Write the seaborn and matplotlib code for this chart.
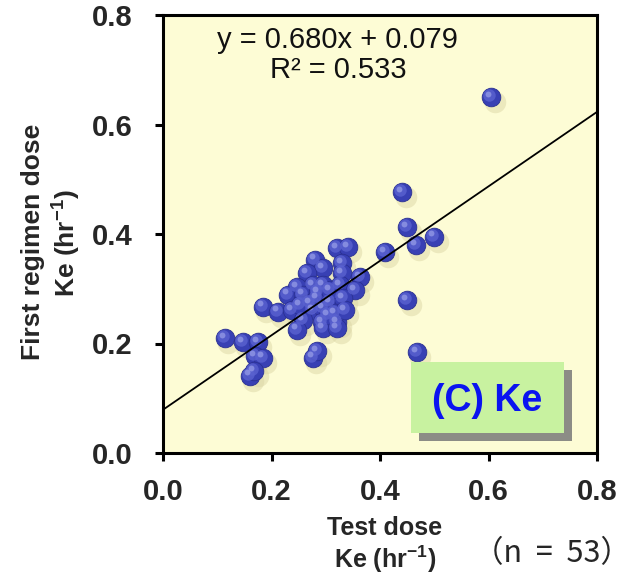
import numpy as np
import pandas as pd
import seaborn as sns
import matplotlib.pyplot as plt
from matplotlib.transforms import offset_copy
from matplotlib.patches import Rectangle

# ---- data ----
test_dose_ke = [
    0.114, 0.147, 0.175, 0.170, 0.184, 0.160, 0.168, 0.184, 0.212, 0.276,
    0.284, 0.441, 0.450, 0.466, 0.500, 0.409, 0.450, 0.468, 0.605,
    0.321, 0.341, 0.280, 0.295, 0.330, 0.330, 0.265, 0.363, 0.276, 0.295,
    0.326, 0.354, 0.247, 0.230, 0.258, 0.284, 0.308, 0.332, 0.238, 0.276,
    0.295, 0.317, 0.258, 0.293, 0.321, 0.247, 0.295, 0.321,
    0.286, 0.308, 0.271, 0.304, 0.335, 0.253,
]
first_regimen_ke = [
    0.210, 0.203, 0.203, 0.177, 0.174, 0.141, 0.150, 0.267, 0.258, 0.174,
    0.186, 0.477, 0.413, 0.380, 0.395, 0.367, 0.279, 0.184, 0.650,
    0.374, 0.376, 0.353, 0.338, 0.347, 0.329, 0.329, 0.321, 0.307, 0.307,
    0.307, 0.298, 0.303, 0.289, 0.289, 0.283, 0.276, 0.283, 0.261, 0.261,
    0.265, 0.256, 0.243, 0.239, 0.239, 0.225, 0.228, 0.228,
    0.294, 0.298, 0.274, 0.252, 0.261, 0.270,
]
slope = 0.680
intercept = 0.079
r_squared = 0.533
n_patients = 53
tick_values = [0.0, 0.2, 0.4, 0.6, 0.8]
tick_labels = ["0.0", "0.2", "0.4", "0.6", "0.8"]
panel_label = "(C) Ke"

df = pd.DataFrame({"test": test_dose_ke, "first": first_regimen_ke})

sns.set_theme(style="ticks")
plt.rcParams["font.family"] = ["Liberation Sans", "DejaVu Sans"]
plt.rcParams["mathtext.fontset"] = "custom"
plt.rcParams["mathtext.rm"] = "Liberation Sans"
plt.rcParams["mathtext.bf"] = "Liberation Sans:bold"

W, H = 632, 576
fig = plt.figure(figsize=(W / 100, H / 100), dpi=100)
fig.patch.set_facecolor("white")
ax = fig.add_axes([163 / W, 1 - 453 / H, 434 / W, 438 / H])
ax.set_facecolor("#FDFCD5")

# sphere-like markers: soft shadow, body, highlight
shadow_tr = offset_copy(ax.transData, fig=fig, x=2.5, y=-3.5, units="points")
sns.scatterplot(data=df, x="test", y="first", s=240, color="#DCD7A6", alpha=0.5,
                linewidth=0, transform=shadow_tr, ax=ax, legend=False, zorder=2)
sns.scatterplot(data=df, x="test", y="first", s=180, color="#3840B4",
                edgecolor="#2A3092", linewidth=0.6, ax=ax, legend=False, zorder=3)
hl_tr = offset_copy(ax.transData, fig=fig, x=-1.4, y=1.6, units="points")
sns.scatterplot(data=df, x="test", y="first", s=80, color="#5A62D0", alpha=0.8,
                linewidth=0, transform=hl_tr, ax=ax, legend=False, zorder=4)
hl2_tr = offset_copy(ax.transData, fig=fig, x=-2.0, y=2.4, units="points")
sns.scatterplot(data=df, x="test", y="first", s=18, color="#9AA0E8", alpha=0.7,
                linewidth=0, transform=hl2_tr, ax=ax, legend=False, zorder=4)

# regression line
ax.axline((0, intercept), slope=slope, color="black", lw=1.3, zorder=5)

ax.set_xlim(0, 0.8)
ax.set_ylim(0, 0.8)
ax.set_xticks(tick_values)
ax.set_yticks(tick_values)
ax.set_xticklabels(tick_labels, fontsize=21, fontweight="bold")
ax.set_yticklabels(tick_labels, fontsize=21, fontweight="bold")
ax.tick_params(axis="both", direction="out", length=6, width=2.2, color="black")
ax.tick_params(axis="x", pad=12)
ax.tick_params(axis="y", pad=16)
ax.set_xlabel("")
ax.set_ylabel("")
for sp in ax.spines.values():
    sp.set_visible(True)
    sp.set_linewidth(2.2)
    sp.set_color("black")

# equation
ax.text(0.403, 0.943, f"y = {slope:.3f}x + {intercept:.3f}", transform=ax.transAxes,
        ha="center", va="center", fontsize=21, color="#111111")
ax.text(0.403, 0.874, f"R² = {r_squared:.3f}", transform=ax.transAxes,
        ha="center", va="center", fontsize=21, color="#111111")

# panel label box with shadow
ax.add_patch(Rectangle((0.590, 0.0274), 0.3525, 0.162, transform=ax.transAxes,
                       facecolor="#8C8C86", edgecolor="none", zorder=6))
ax.add_patch(Rectangle((0.571, 0.0457), 0.3525, 0.162, transform=ax.transAxes,
                       facecolor="#C8F2A0", edgecolor="none", zorder=7))
ax.text(0.747, 0.119, panel_label, transform=ax.transAxes, ha="center", va="center",
        fontsize=27, fontweight="bold", color="#0A14F0", zorder=8)

# axis labels
fig.text(385 / W, 1 - 528 / H, "Test dose", ha="center", va="center",
         fontsize=18, fontweight="bold")
fig.text(385 / W, 1 - 559 / H, r"Ke (hr$^{\mathbf{-1}}$)", ha="center", va="center",
         fontsize=18, fontweight="bold")
fig.text(33 / W, 1 - 242 / H, "First regimen dose", ha="center", va="center",
         rotation=90, fontsize=19, fontweight="bold")
fig.text(66 / W, 1 - 243 / H, r"Ke (hr$^{\mathbf{-1}}$)", ha="center", va="center",
         rotation=90, fontsize=19, fontweight="bold")
fig.text(552 / W, 1 - 554 / H, f"（n  =  {n_patients}）", ha="center", va="center",
         fontsize=22, family=["Noto Sans CJK JP", "DejaVu Sans"])

fig.savefig("out.png", dpi=100, facecolor="white")
